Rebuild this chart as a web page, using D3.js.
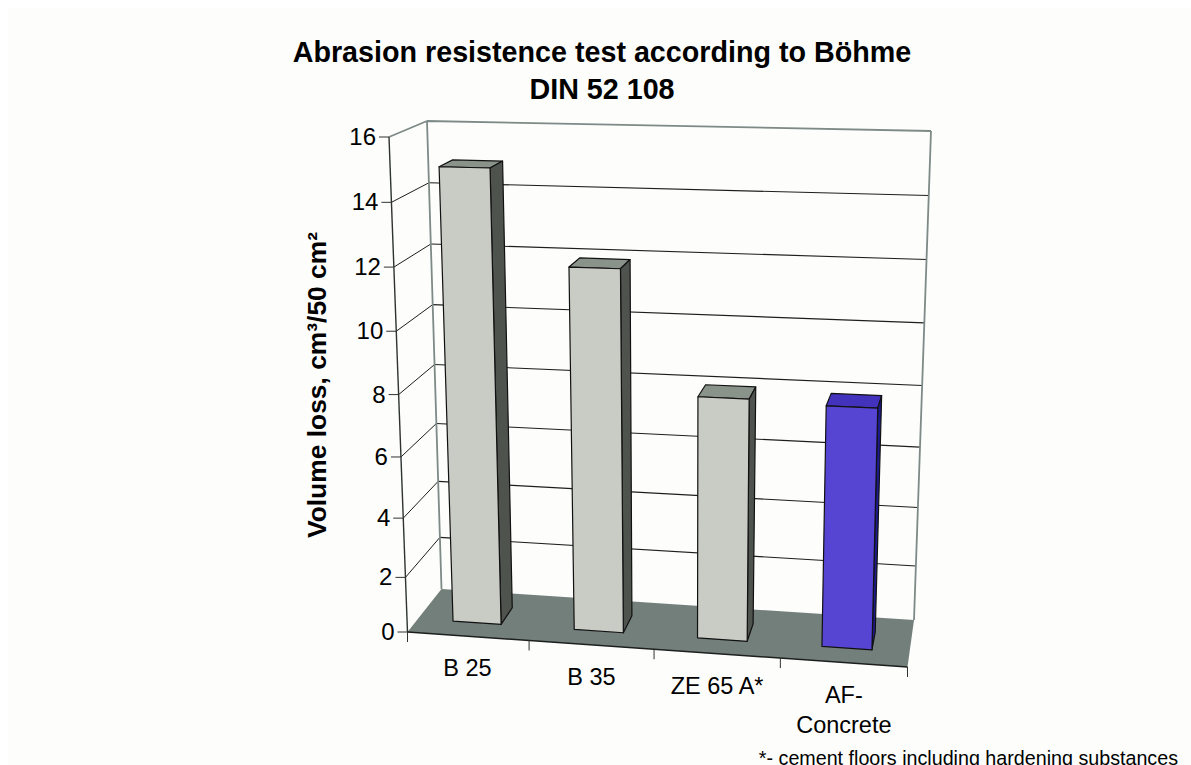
<!DOCTYPE html>
<html>
<head>
<meta charset="utf-8">
<script src="https://cdn.jsdelivr.net/npm/d3@7"></script>
<style>
  html, body { margin: 0; padding: 0; background: #ffffff; overflow: hidden; }
  text { font-family: "Liberation Sans", Arial, sans-serif; fill: #000; }
</style>
</head>
<body>
<script>
// values
const categories = ["B 25", "B 35", "ZE 65 A*", "AF-\nConcrete"];
const volumeLoss = [14.95, 11.95, 8.05, 7.95];
const yTicks = [0, 2, 4, 6, 8, 10, 12, 14, 16];
const titleLines = ["Abrasion resistence test according to Böhme", "DIN 52 108"];
const yTitle = "Volume loss, cm³/50 cm²";
const footnote = "*- cement floors including hardening substances";
const highlight = "AF-\nConcrete";

const width = 1191;
const height = 765;

// the corners of the 3d box as they land on the page
const box = {
  frontBottomLeft: [407.5, 632], frontBottomRight: [907.5, 667],
  backBottomLeft: [441.5, 589], backBottomRight: [914, 620],
  frontTopLeft: [389, 137], frontTopRight: [921, 149],
  backTopLeft: [427, 121], backTopRight: [931, 131]
};

// slight perspective, so power scales instead of linear
const uScale = d3.scalePow().exponent(1.02).domain([0, categories.length]).range([0, 1]);
const vScale = d3.scalePow().exponent(1.06).domain([0, 16]).range([0, 1]);
const zScale = d3.scaleLinear().domain([0, 1]).range([0, 1]);

const mix = (a, b, t) => [a[0] + (b[0] - a[0]) * t, a[1] + (b[1] - a[1]) * t];

function project(u, v, z) {
  const tu = uScale(u), tv = vScale(v), tz = zScale(z);
  const fb = mix(box.frontBottomLeft, box.frontBottomRight, tu);
  const bb = mix(box.backBottomLeft, box.backBottomRight, tu);
  const ft = mix(box.frontTopLeft, box.frontTopRight, tu);
  const bt = mix(box.backTopLeft, box.backTopRight, tu);
  return mix(mix(fb, bb, tz), mix(ft, bt, tz), tv);
}

const poly = (pts) => "M" + pts.map(p => p.join(",")).join("L") + "Z";
const seg = (a, b) => "M" + a.join(",") + "L" + b.join(",");

const svg = d3.select("body").append("svg")
  .attr("width", width)
  .attr("height", height)
  .attr("viewBox", `0 0 ${width} ${height}`)
  .style("display", "block");

svg.append("rect")
  .attr("x", 8).attr("y", 8)
  .attr("width", width - 8).attr("height", height - 8)
  .attr("fill", "#fdfdfb");

const nCat = categories.length;
const vMax = d3.max(yTicks);

// floor
svg.append("path")
  .attr("d", poly([project(0, 0, 0), project(nCat, 0, 0), project(nCat, 0, 1), project(0, 0, 1)]))
  .attr("fill", "#737f7b");

// gridlines on the side wall and the back wall
const grid = svg.append("g");
grid.selectAll("path.side")
  .data(yTicks.filter(d => d > 0 && d < vMax))
  .join("path")
  .attr("class", "side")
  .attr("d", d => seg(project(0, d, 0), project(0, d, 1)))
  .attr("stroke", "#1c1f1e").attr("stroke-width", 1).attr("fill", "none");
grid.selectAll("path.back")
  .data(yTicks.filter(d => d > 0 && d < vMax))
  .join("path")
  .attr("class", "back")
  .attr("d", d => seg(project(0, d, 1), project(nCat, d, 1)))
  .attr("stroke", "#1c1f1e").attr("stroke-width", 1.1).attr("fill", "none");

// wall outline
svg.append("path")
  .attr("d", seg(project(0, 0, 1), project(0, vMax, 1)) + seg(project(0, vMax, 0), project(0, vMax, 1))
    + seg(project(0, vMax, 1), project(nCat, vMax, 1)) + seg(project(nCat, vMax, 1), project(nCat, 0, 1)))
  .attr("stroke", "#7d8a88").attr("stroke-width", 1.8).attr("fill", "none");

// axes on the front edge
svg.append("path")
  .attr("d", seg(project(0, 0, 0), project(0, vMax, 0)))
  .attr("stroke", "#2e3332").attr("stroke-width", 1.4).attr("fill", "none");
svg.append("path")
  .attr("d", seg(project(0, 0, 0), project(nCat, 0, 0)))
  .attr("stroke", "#1c1f1e").attr("stroke-width", 1.4).attr("fill", "none");

const yAxis = svg.append("g");
yAxis.selectAll("path")
  .data(yTicks)
  .join("path")
  .attr("d", d => { const p = project(0, d, 0); return seg([p[0] - 10, p[1]], p); })
  .attr("stroke", "#2e3332").attr("stroke-width", 1);
yAxis.selectAll("text")
  .data(yTicks)
  .join("text")
  .attr("x", d => project(0, d, 0)[0] - 13)
  .attr("y", d => project(0, d, 0)[1] + 8)
  .attr("text-anchor", "end")
  .attr("font-size", 24)
  .text(d => d);

svg.append("g").selectAll("path")
  .data(d3.range(nCat + 1))
  .join("path")
  .attr("d", d => { const p = project(d, 0, 0); return seg(p, [p[0], p[1] + 10]); })
  .attr("stroke", "#2e3332").attr("stroke-width", 1);

// bars, front face plus the top and right side
const barLeft = 0.3, barRight = 0.7, barFront = 0.31, barBack = 0.69;
const barColor = {
  plain: { front: "#c9cbc5", top: "#8a9389", side: "#4f534e" },
  blue: { front: "#5645d2", top: "#4333bc", side: "#1d1a8c" }
};
const bars = svg.append("g").selectAll("g")
  .data(categories.map((c, i) => ({ c, i, v: volumeLoss[i] })))
  .join("g")
  .attr("stroke", "#111").attr("stroke-width", 1.2).attr("stroke-linejoin", "round");
const colorOf = d => d.c === highlight ? barColor.blue : barColor.plain;
bars.append("path")
  .attr("fill", d => colorOf(d).top)
  .attr("d", d => poly([
    project(d.i + barLeft, d.v, barFront), project(d.i + barRight, d.v, barFront),
    project(d.i + barRight, d.v, barBack), project(d.i + barLeft, d.v, barBack)]));
bars.append("path")
  .attr("fill", d => colorOf(d).side)
  .attr("d", d => poly([
    project(d.i + barRight, 0, barFront), project(d.i + barRight, d.v, barFront),
    project(d.i + barRight, d.v, barBack), project(d.i + barRight, 0, barBack)]));
bars.append("path")
  .attr("fill", d => colorOf(d).front)
  .attr("d", d => poly([
    project(d.i + barLeft, 0, barFront), project(d.i + barRight, 0, barFront),
    project(d.i + barRight, d.v, barFront), project(d.i + barLeft, d.v, barFront)]));

// category labels
const catLabels = svg.append("g").selectAll("text")
  .data(categories.map((c, i) => ({ c, i })))
  .join("text")
  .attr("text-anchor", "middle")
  .attr("font-size", 23.5)
  .attr("transform", d => {
    const p = project(d.i + 0.5, 0, 0);
    return `translate(${p[0]},${p[1] + 30})`;
  });
catLabels.selectAll("tspan")
  .data(d => d.c.split("\n"))
  .join("tspan")
  .attr("x", 0)
  .attr("dy", (d, i) => i === 0 ? 10 : 30)
  .text(d => d);

// titles
svg.append("g").selectAll("text")
  .data(titleLines)
  .join("text")
  .attr("x", 602)
  .attr("y", (d, i) => 62 + i * 37)
  .attr("text-anchor", "middle")
  .attr("font-size", 28.7)
  .attr("font-weight", "bold")
  .text(d => d);

svg.append("text")
  .attr("transform", "translate(326,385) rotate(-90)")
  .attr("text-anchor", "middle")
  .attr("font-size", 26.4)
  .attr("font-weight", "bold")
  .text(yTitle);

svg.append("text")
  .attr("x", 1178)
  .attr("y", 765)
  .attr("text-anchor", "end")
  .attr("font-size", 19.7)
  .text(footnote);
</script>
</body>
</html>
